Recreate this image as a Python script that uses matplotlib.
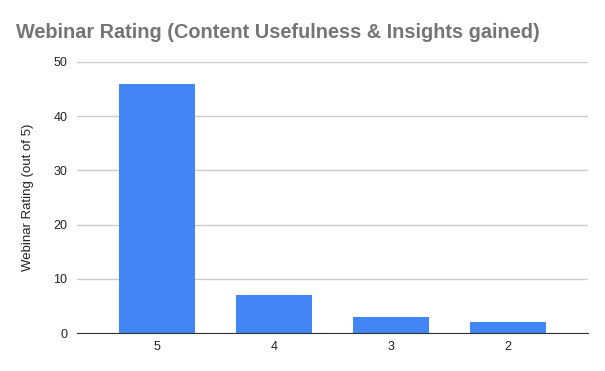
import matplotlib.pyplot as plt
import numpy as np

ratings = ["5", "4", "3", "2"]
counts = [46, 7, 3, 2]
y_ticks = [0, 10, 20, 30, 40, 50]

plt.rcParams['font.family'] = ['Liberation Sans', 'DejaVu Sans']

fig = plt.figure(figsize=(6.05, 3.71), dpi=100)
ax = fig.add_axes([77 / 605, 1 - 333 / 371, (588 - 77) / 605, (333 - 62) / 371])

x = np.arange(len(ratings))
ax.bar(x, counts, width=0.65, color='#4285F4', zorder=3)

ax.set_xlim(-0.684, 3.684)
ax.set_ylim(0, 50)
ax.set_yticks(y_ticks)
ax.set_xticks(x)
ax.set_xticklabels(ratings)
ax.grid(axis='y', color='#cccccc', linewidth=1, zorder=0)
ax.tick_params(length=0, labelsize=9, colors='#222222', pad=6)
ax.tick_params(axis='y', pad=7)

for side in ['top', 'right', 'left']:
    ax.spines[side].set_visible(False)
ax.spines['bottom'].set_color('#333333')
ax.spines['bottom'].set_zorder(4)

ax.set_ylabel('Webinar Rating (out of 5)', fontsize=9.5, color='#222222', labelpad=14)
fig.text(16 / 605, 1 - 33 / 371, 'Webinar Rating (Content Usefulness & Insights gained)',
         fontsize=14.3, fontweight='bold', color='#757575', va='center', ha='left')

fig.savefig('out.png', dpi=100)
